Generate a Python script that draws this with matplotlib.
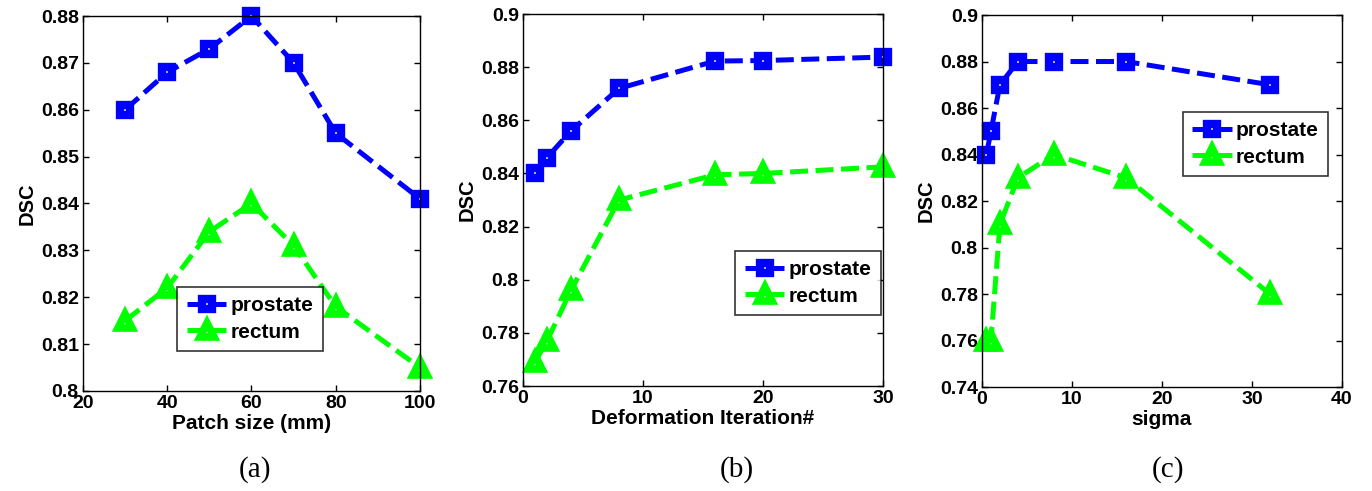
import matplotlib
matplotlib.use("Agg")
import matplotlib.pyplot as plt
from matplotlib.ticker import FuncFormatter, MultipleLocator

plt.rcParams["font.family"] = ["Liberation Sans", "DejaVu Sans"]
plt.rcParams["font.weight"] = "bold"

# (a) patch size
patch_size = [30, 40, 50, 60, 70, 80, 100]
patch_prostate = [0.860, 0.868, 0.873, 0.880, 0.870, 0.855, 0.841]
patch_rectum = [0.815, 0.822, 0.834, 0.840, 0.831, 0.818, 0.805]

# (b) deformation iterations
iters = [1, 2, 4, 8, 16, 20, 30]
iter_prostate = [0.840, 0.846, 0.856, 0.872, 0.8823, 0.8825, 0.8838]
iter_rectum = [0.769, 0.777, 0.796, 0.830, 0.8395, 0.840, 0.8425]

# (c) sigma
sigma = [0.5, 1, 2, 4, 8, 16, 32]
sigma_prostate = [0.84, 0.85, 0.87, 0.88, 0.88, 0.88, 0.87]
sigma_rectum = [0.76, 0.76, 0.81, 0.83, 0.84, 0.83, 0.78]

BLUE = "#0000ff"
GREEN = "#00ff00"
DASH = (0, (3.6, 1.5))


def fmt(v, _pos):
    return "%g" % round(v, 4)


def panel(fig, rect, x, prostate, rectum, xlim, ylim, ystep, xstep,
          xlabel, caption, cap_x, legend_corner):
    ax = fig.add_axes(rect)
    ax.plot(x, prostate, color=BLUE, linestyle=DASH, linewidth=3.6,
            marker="s", markersize=6.8, markerfacecolor="white",
            markeredgecolor=BLUE, markeredgewidth=6.0, label="prostate",
            clip_on=False)
    ax.plot(x, rectum, color=GREEN, linestyle=DASH, linewidth=3.6,
            marker="^", markersize=9.5, markerfacecolor="white",
            markeredgecolor=GREEN, markeredgewidth=5.5, label="rectum",
            clip_on=False)
    ax.set_xlim(*xlim)
    ax.set_ylim(*ylim)
    ax.xaxis.set_major_locator(MultipleLocator(xstep))
    ax.yaxis.set_major_locator(MultipleLocator(ystep))
    ax.xaxis.set_major_formatter(FuncFormatter(fmt))
    ax.yaxis.set_major_formatter(FuncFormatter(fmt))
    ax.tick_params(direction="in", top=True, right=True, length=4,
                   width=1, labelsize=14, pad=3)
    for sp in ax.spines.values():
        sp.set_linewidth(1)
    ax.set_xlabel(xlabel, fontsize=15, fontweight="bold", labelpad=1)
    ax.set_ylabel("DSC", fontsize=14.5, fontweight="bold", labelpad=3)
    leg = ax.legend(loc="upper left", bbox_to_anchor=legend_corner,
                    fontsize=15, frameon=True, fancybox=False,
                    handlelength=1.9, borderpad=0.45, labelspacing=0.35,
                    handletextpad=0.2, borderaxespad=0)
    leg.get_frame().set_edgecolor("black")
    leg.get_frame().set_linewidth(1.2)
    fig.text(cap_x, 0.043, caption, ha="center", va="center",
             fontsize=21, family="Liberation Serif", fontweight="normal")
    return ax


fig = plt.figure(figsize=(13.72, 4.91), dpi=100)

panel(fig, [0.0605, 0.2037, 0.2456, 0.7637], patch_size, patch_prostate,
      patch_rectum, (20, 100), (0.8, 0.88), 0.01, 20,
      "Patch size (mm)", "(a)", 0.186, (0.28, 0.277))
panel(fig, [0.3812, 0.2138, 0.2624, 0.7576], iters, iter_prostate,
      iter_rectum, (0, 30), (0.76, 0.9), 0.02, 10,
      "Deformation Iteration#", "(b)", 0.537, (0.59, 0.363))
panel(fig, [0.7157, 0.2118, 0.2624, 0.7576], sigma, sigma_prostate,
      sigma_rectum, (0, 40), (0.74, 0.9), 0.02, 10,
      "sigma", "(c)", 0.851, (0.558, 0.739))

fig.savefig("out.png", dpi=100)
